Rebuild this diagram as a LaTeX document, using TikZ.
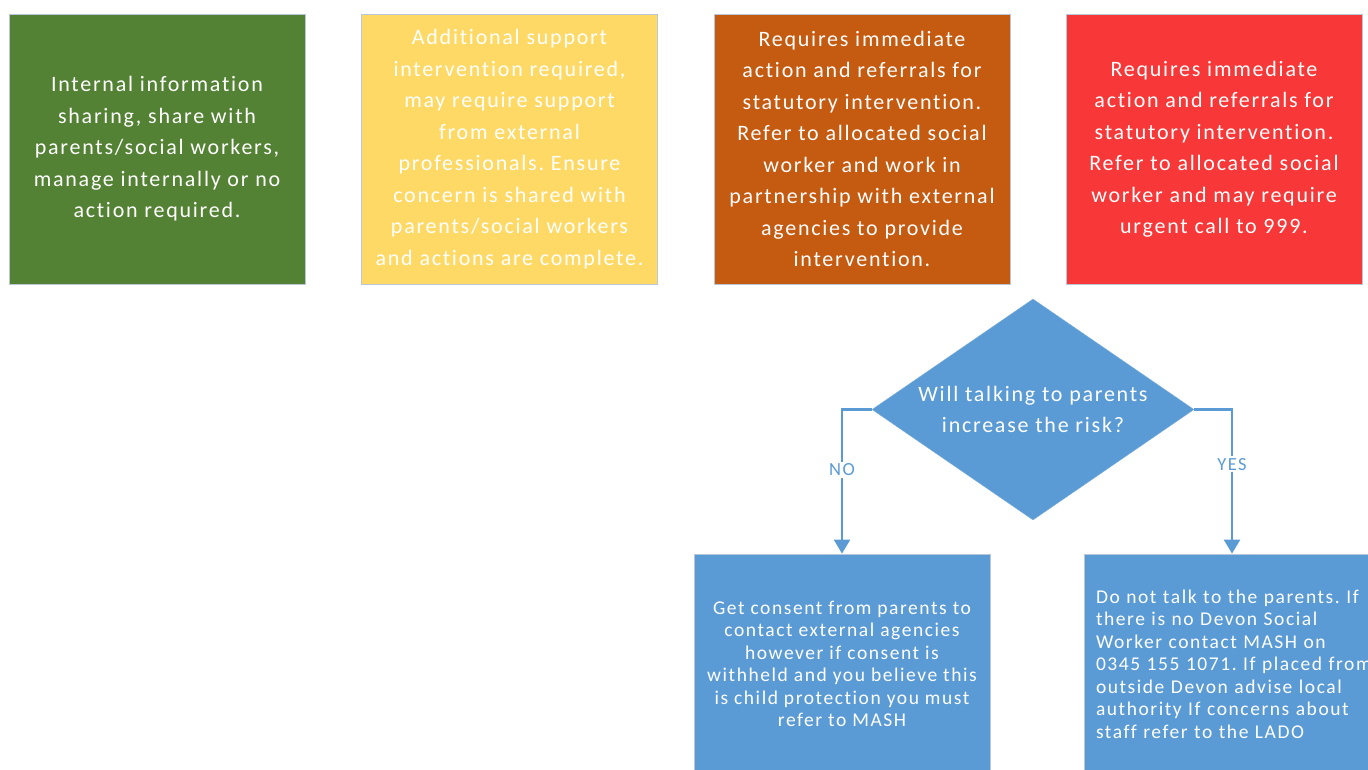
\documentclass[tikz,border=0pt]{standalone}
\usepackage{fontspec}
\setmainfont{Carlito}[LetterSpace=8,Ligatures=NoCommon]
\usetikzlibrary{shapes.geometric,arrows.meta}
\definecolor{cgreen}{HTML}{548235}
\definecolor{cyellow}{HTML}{FFD966}
\definecolor{corange}{HTML}{C55A11}
\definecolor{cred}{HTML}{F83838}
\definecolor{cblue}{HTML}{5B9BD5}
\definecolor{boxline}{HTML}{B8C6D8}
\tikzset{
  topbox/.style={draw=boxline, line width=0.8pt, minimum width=296pt, minimum height=270pt,
    inner sep=0pt, align=center, text=white, font=\fontsize{22}{31.5}\selectfont},
  lowbox/.style={draw=boxline, line width=0.8pt, fill=cblue, minimum width=296pt, minimum height=220pt,
    inner sep=0pt, text=white, font=\fontsize{19.5}{22.5}\selectfont},
  decision/.style={diamond, fill=cblue, draw=cblue!80!white, inner sep=0pt, minimum width=322pt,
    minimum height=221pt, aspect=1.457, align=center, text=white, font=\fontsize{22}{31}\selectfont},
  conn/.style={draw=cblue, line width=2.4pt, -{Triangle[width=16pt,length=14pt]}},
  lbl/.style={fill=white, text=cblue, inner sep=2pt, font=\fontsize{18.5}{20}\selectfont}
}
\begin{document}
\frenchspacing
\begin{tikzpicture}[x=1pt,y=-1pt]
\useasboundingbox (0,0) rectangle (1368,769);
\clip (0,0) rectangle (1368,769);
\fill[white] (0,0) rectangle (1368,769);
\node[topbox, fill=cgreen] (green) at (157,149) {Internal information\\sharing, share with\\parents/social workers,\\manage internally or no\\action required.};
\node[topbox, fill=cyellow] (yellow) at (509.5,149) {Additional support\\intervention required,\\may require support\\from external\\professionals. Ensure\\concern is shared with\\parents/social workers\\and actions are complete.};
\node[topbox, fill=corange] (orange) at (862,149) {Requires immediate\\action and referrals for\\statutory intervention.\\Refer to allocated social\\worker and work in\\partnership with external\\agencies to provide\\intervention.};
\node[topbox, fill=cred] (red) at (1214,149) {Requires immediate\\action and referrals for\\statutory intervention.\\Refer to allocated social\\worker and may require\\urgent call to 999.};
\node[decision] (q) at (1033,409.5) {Will talking to parents\\increase the risk?};
\node[lowbox, align=center] (no) at (842,664) {Get consent from parents to\\contact external agencies\\however if consent is\\withheld and you believe this\\is child protection you must\\refer to MASH};
\node[lowbox, text width=272pt, align=left] (yes) at (1232,664) {\mbox{Do not talk to the parents. If}\\there is no Devon Social\\Worker contact MASH on\\\mbox{0345 155 1071. If placed from}\\outside Devon advise local\\authority If concerns about\\staff refer to the LADO};
\draw[conn] (q.west) -| node[lbl, pos=0.71] {NO} (no.north);
\draw[conn] (q.east) -| node[lbl, pos=0.69] {YES} (yes.north);
\end{tikzpicture}
\end{document}
